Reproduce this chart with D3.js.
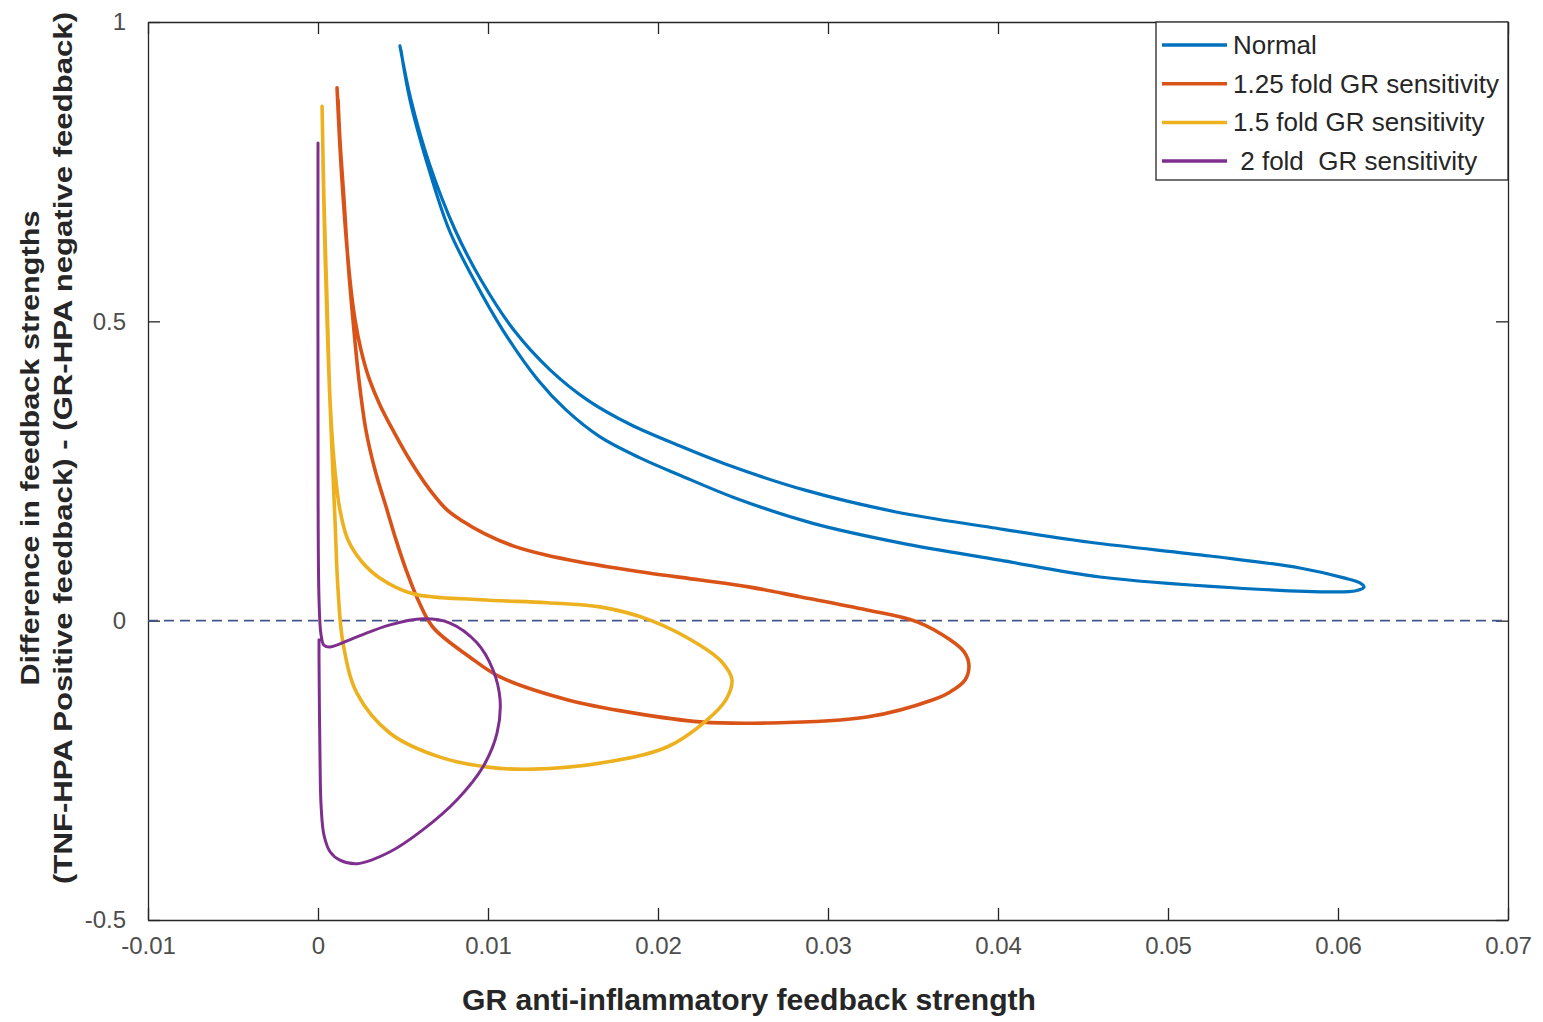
<!DOCTYPE html>
<html>
<head>
<meta charset="utf-8">
<script src="https://cdnjs.cloudflare.com/ajax/libs/d3/7.8.5/d3.min.js"></script>
<style>
  body { margin: 0; background: #fff; }
  text { font-family: "Liberation Sans", Arial, sans-serif; fill: #262626; }
</style>
</head>
<body>
<script>
// Series data: [GR feedback strength, difference in strengths]
var normalPts = [
  [0.00482, 0.960], [0.00547, 0.870], [0.00653, 0.765], [0.00806, 0.653], [0.00959, 0.569],
  [0.01153, 0.485], [0.01365, 0.419], [0.01588, 0.368], [0.01835, 0.328], [0.02118, 0.293],
  [0.02412, 0.260], [0.02865, 0.218], [0.03394, 0.182], [0.03953, 0.156], [0.04541, 0.131],
  [0.05247, 0.108], [0.05776, 0.088], [0.06041, 0.071], [0.06129, 0.063], [0.06153, 0.056],
  [0.06106, 0.050], [0.05971, 0.048], [0.05382, 0.055], [0.04600, 0.073], [0.04012, 0.101],
  [0.03424, 0.130], [0.02906, 0.163], [0.02453, 0.205], [0.02129, 0.243], [0.01894, 0.272],
  [0.01659, 0.307], [0.01459, 0.352], [0.01294, 0.402], [0.01088, 0.485], [0.00918, 0.569],
  [0.00771, 0.653], [0.00641, 0.765], [0.00541, 0.870], [0.00488, 0.953]
];

var fold125Pts = [
  [0.00112, 0.890], [0.00141, 0.736], [0.00188, 0.569], [0.00218, 0.502], [0.00253, 0.452],
  [0.00300, 0.405], [0.00365, 0.360], [0.00447, 0.315], [0.00541, 0.268], [0.00659, 0.218],
  [0.00759, 0.185], [0.00847, 0.167], [0.00982, 0.145], [0.01147, 0.125], [0.01335, 0.110],
  [0.01541, 0.098], [0.01935, 0.080], [0.02247, 0.068],
  [0.02541, 0.056], [0.02835, 0.040], [0.03229, 0.018], [0.03524, -0.002], [0.03718, -0.032],
  [0.03800, -0.052], [0.03829, -0.074], [0.03806, -0.099], [0.03718, -0.119], [0.03618, -0.132],
  [0.03229, -0.161], [0.02641, -0.171], [0.02247, -0.169], [0.01853, -0.154], [0.01465, -0.132],
  [0.01071, -0.094], [0.00894, -0.061], [0.00676, -0.011], [0.00588, 0.035], [0.00518, 0.085],
  [0.00459, 0.135], [0.00406, 0.185], [0.00335, 0.252], [0.00282, 0.318], [0.00241, 0.402],
  [0.00206, 0.502], [0.00176, 0.602], [0.00153, 0.703], [0.00129, 0.803], [0.00118, 0.870]
];

var fold15Pts = [
  [0.00024, 0.859], [0.00035, 0.702], [0.00053, 0.535], [0.00071, 0.368], [0.00094, 0.268],
  [0.00129, 0.185], [0.00176, 0.135], [0.00259, 0.098], [0.00365, 0.071], [0.00559, 0.045],
  [0.00953, 0.035], [0.01347, 0.030], [0.01659, 0.023], [0.01953, 0.001], [0.02247, -0.041],
  [0.02376, -0.069], [0.02435, -0.099], [0.02400, -0.132], [0.02288, -0.166], [0.02053, -0.211],
  [0.01659, -0.238], [0.01265, -0.248], [0.01012, -0.245], [0.00718, -0.228], [0.00424, -0.188],
  [0.00229, -0.121], [0.00147, -0.037], [0.00118, 0.051], [0.00100, 0.168], [0.00082, 0.285],
  [0.00059, 0.452], [0.00041, 0.619], [0.00029, 0.769]
];

var fold2Pts = [
  [0.0, 0.798], [0.0, 0.368], [0.00006, 0.035], [0.00018, -0.024], [0.00035, -0.041],
  [0.00071, -0.044], [0.00229, -0.027], [0.00424, -0.007], [0.00618, 0.003], [0.00776, -0.004],
  [0.00935, -0.037], [0.01029, -0.082], [0.01071, -0.132], [0.01053, -0.188], [0.00971, -0.244],
  [0.00818, -0.299], [0.00618, -0.349], [0.00424, -0.386], [0.00229, -0.406], [0.00129, -0.400],
  [0.00071, -0.386], [0.00035, -0.358], [0.00018, -0.308], [0.00012, -0.233], [0.00006, -0.066],
  [0.00006, -0.032]
];

var seriesNames = ["Normal", "1.25 fold GR sensitivity", "1.5 fold GR sensitivity", " 2 fold  GR sensitivity"];
var seriesColors = ["#0072BD", "#D95319", "#EDB120", "#7E2F8E"];
var xTicks = [-0.01, 0, 0.01, 0.02, 0.03, 0.04, 0.05, 0.06, 0.07];
var yTicks = [-0.5, 0, 0.5, 1];

// Chart Params
var svgWidth = 1543;
var svgHeight = 1022;
var margin = { top: 22, right: 35, bottom: 102, left: 148 };
var width = svgWidth - margin.left - margin.right;
var height = svgHeight - margin.top - margin.bottom;

var svg = d3.select("body")
  .append("svg")
  .attr("width", svgWidth)
  .attr("height", svgHeight);

var chartGroup = svg.append("g")
  .attr("transform", `translate(${margin.left}, ${margin.top})`);

var xScale = d3.scaleLinear().domain([-0.01, 0.07]).range([0, width]);
var yScale = d3.scaleLinear().domain([-0.5, 1]).range([height, 0]);

// Axes, MATLAB style box with inward ticks on all four sides
var tickLen = 12;
var fmt = d => String(+d.toFixed(3));

chartGroup.append("g")
  .attr("transform", `translate(0, ${height})`)
  .call(d3.axisBottom(xScale).tickValues(xTicks).tickSizeInner(-tickLen).tickSizeOuter(0).tickPadding(17).tickFormat(fmt))
  .call(g => g.selectAll("text").style("font-size", "24px").style("fill", "#4d4d4d"));

chartGroup.append("g")
  .call(d3.axisLeft(yScale).tickValues(yTicks).tickSizeInner(-tickLen).tickSizeOuter(0).tickPadding(22).tickFormat(fmt))
  .call(g => g.selectAll("text").style("font-size", "24px").style("fill", "#4d4d4d"));

chartGroup.append("g")
  .call(d3.axisTop(xScale).tickValues(xTicks).tickSizeInner(-tickLen).tickSizeOuter(0).tickFormat(""));

chartGroup.append("g")
  .attr("transform", `translate(${width}, 0)`)
  .call(d3.axisRight(yScale).tickValues(yTicks).tickSizeInner(-tickLen).tickSizeOuter(0).tickFormat(""));

chartGroup.selectAll(".domain, .tick line")
  .attr("stroke", "#262626")
  .attr("stroke-width", 1.3);

// dashed zero line
chartGroup.append("line")
  .attr("x1", xScale(-0.01))
  .attr("x2", xScale(0.07))
  .attr("y1", yScale(0))
  .attr("y2", yScale(0))
  .attr("stroke", "#45558c")
  .attr("stroke-width", 1.6)
  .attr("stroke-dasharray", "10,6");

// curves
var line = d3.line()
  .x(d => xScale(d[0]))
  .y(d => yScale(d[1]))
  .curve(d3.curveCatmullRom.alpha(0.5));

var allSeries = [normalPts, fold125Pts, fold15Pts, fold2Pts];
var lineWidths = [3.2, 3.6, 3.6, 3];

allSeries.forEach(function(pts, i) {
  chartGroup.append("path")
    .attr("d", line(pts))
    .attr("fill", "none")
    .attr("stroke", seriesColors[i])
    .attr("stroke-width", lineWidths[i])
    .attr("stroke-linejoin", "round")
    .attr("stroke-linecap", "round");
});

// Legend
var legend = svg.append("g")
  .attr("transform", "translate(1156, 22)");

legend.append("rect")
  .attr("width", 352)
  .attr("height", 158)
  .attr("fill", "#fff")
  .attr("stroke", "#262626")
  .attr("stroke-width", 1.3);

seriesNames.forEach(function(name, i) {
  var yPos = 23 + i * 38.7;
  legend.append("line")
    .attr("x1", 6).attr("x2", 71)
    .attr("y1", yPos).attr("y2", yPos)
    .attr("stroke", seriesColors[i])
    .attr("stroke-width", 3.5);
  legend.append("text")
    .attr("x", 77)
    .attr("y", yPos + 9)
    .style("font-size", "26px")
    .style("white-space", "pre")
    .text(name);
});

// Axis titles
svg.append("text")
  .attr("x", 749)
  .attr("y", 1010)
  .attr("text-anchor", "middle")
  .style("font-size", "29px")
  .style("font-weight", "bold")
  .attr("textLength", 574)
  .attr("lengthAdjust", "spacingAndGlyphs")
  .text("GR anti-inflammatory feedback strength");

svg.append("text")
  .attr("transform", "translate(39, 448) rotate(-90)")
  .attr("text-anchor", "middle")
  .style("font-size", "25px")
  .style("font-weight", "bold")
  .attr("textLength", 475)
  .attr("lengthAdjust", "spacingAndGlyphs")
  .text("Difference in feedback strengths");

svg.append("text")
  .attr("transform", "translate(72, 448) rotate(-90)")
  .attr("text-anchor", "middle")
  .style("font-size", "25px")
  .style("font-weight", "bold")
  .attr("textLength", 872)
  .attr("lengthAdjust", "spacingAndGlyphs")
  .text("(TNF-HPA Positive feedback) - (GR-HPA negative feedback)");
</script>
</body>
</html>
